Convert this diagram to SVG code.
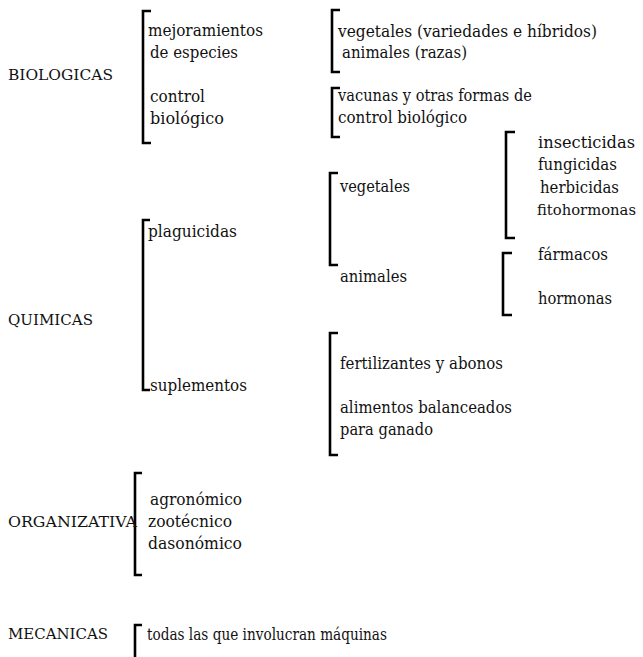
<svg xmlns="http://www.w3.org/2000/svg" width="643" height="657" viewBox="0 0 643 657">
<style>
.br{fill:none;stroke:#000;stroke-width:2.6;stroke-linejoin:miter;}
text{font-family:'DejaVu Serif',serif;font-size:16.5px;fill:#111;}
.cap{font-size:15px;}
.sm{font-size:15px;}
</style>
<rect width="643" height="657" fill="#fff"/>
<g id="connectors">
<path class="br" d="M151 11H143V143H151"/>
<path class="br" d="M340 10H332V72H340"/>
<path class="br" d="M340 88H332V137H340"/>
<path class="br" d="M150 220H143V390H150"/>
<path class="br" d="M338 173H330V265H338"/>
<path class="br" d="M515 132H506V238H515"/>
<path class="br" d="M512 253H503V315H512"/>
<path class="br" d="M338 333H330V455H338"/>
<path class="br" d="M142 473H135V575H142"/>
<path class="br" d="M142 625H135V662"/>
</g>
<g id="biologicas"><text class="cap" x="8" y="80" textLength="105" lengthAdjust="spacingAndGlyphs">BIOLOGICAS</text></g>
<g id="mejoramientos"><text x="148" y="36" textLength="115" lengthAdjust="spacingAndGlyphs">mejoramientos</text><text x="150" y="58" textLength="88" lengthAdjust="spacingAndGlyphs">de especies</text></g>
<g id="control"><text x="150" y="102" textLength="55" lengthAdjust="spacingAndGlyphs">control</text><text x="150" y="124" textLength="74" lengthAdjust="spacingAndGlyphs">biológico</text></g>
<g id="variedades"><text x="338" y="37" textLength="259" lengthAdjust="spacingAndGlyphs">vegetales (variedades e híbridos)</text><text x="342" y="58" textLength="125" lengthAdjust="spacingAndGlyphs">animales (razas)</text></g>
<g id="vacunas"><text x="338" y="101" textLength="194" lengthAdjust="spacingAndGlyphs">vacunas y otras formas de</text><text x="338" y="123" textLength="129" lengthAdjust="spacingAndGlyphs">control biológico</text></g>
<g id="quimicas"><text class="cap" x="8" y="325" textLength="85" lengthAdjust="spacingAndGlyphs">QUIMICAS</text></g>
<g id="plaguicidas"><text x="148" y="237" textLength="89" lengthAdjust="spacingAndGlyphs">plaguicidas</text></g>
<g id="suplementos"><text x="150" y="391" textLength="97" lengthAdjust="spacingAndGlyphs">suplementos</text></g>
<g id="vegetales"><text x="340" y="192" textLength="70" lengthAdjust="spacingAndGlyphs">vegetales</text></g>
<g id="animales"><text x="340" y="282" textLength="67" lengthAdjust="spacingAndGlyphs">animales</text></g>
<g id="plag-vegetales"><text x="538" y="148" textLength="97" lengthAdjust="spacingAndGlyphs">insecticidas</text><text x="538" y="170" textLength="79" lengthAdjust="spacingAndGlyphs">fungicidas</text><text x="540" y="193" textLength="79" lengthAdjust="spacingAndGlyphs">herbicidas</text><text class="sm" x="537" y="215" textLength="99" lengthAdjust="spacingAndGlyphs">fitohormonas</text></g>
<g id="plag-animales"><text x="538" y="260" textLength="70" lengthAdjust="spacingAndGlyphs">fármacos</text><text x="538" y="304" textLength="74" lengthAdjust="spacingAndGlyphs">hormonas</text></g>
<g id="suplementos-items"><text x="340" y="369" textLength="163" lengthAdjust="spacingAndGlyphs">fertilizantes y abonos</text><text x="340" y="413" textLength="172" lengthAdjust="spacingAndGlyphs">alimentos balanceados</text><text x="340" y="435" textLength="93" lengthAdjust="spacingAndGlyphs">para ganado</text></g>
<g id="organizativa"><text class="cap" x="8" y="527" textLength="129" lengthAdjust="spacingAndGlyphs">ORGANIZATIVA</text></g>
<g id="organizativa-items"><text x="150" y="505" textLength="92" lengthAdjust="spacingAndGlyphs">agronómico</text><text x="148" y="527" textLength="84" lengthAdjust="spacingAndGlyphs">zootécnico</text><text x="148" y="549" textLength="94" lengthAdjust="spacingAndGlyphs">dasonómico</text></g>
<g id="mecanicas"><text class="cap" x="8" y="639" textLength="100" lengthAdjust="spacingAndGlyphs">MECANICAS</text></g>
<g id="maquinas"><text x="147" y="640" textLength="240" lengthAdjust="spacingAndGlyphs">todas las que involucran máquinas</text></g>
</svg>
